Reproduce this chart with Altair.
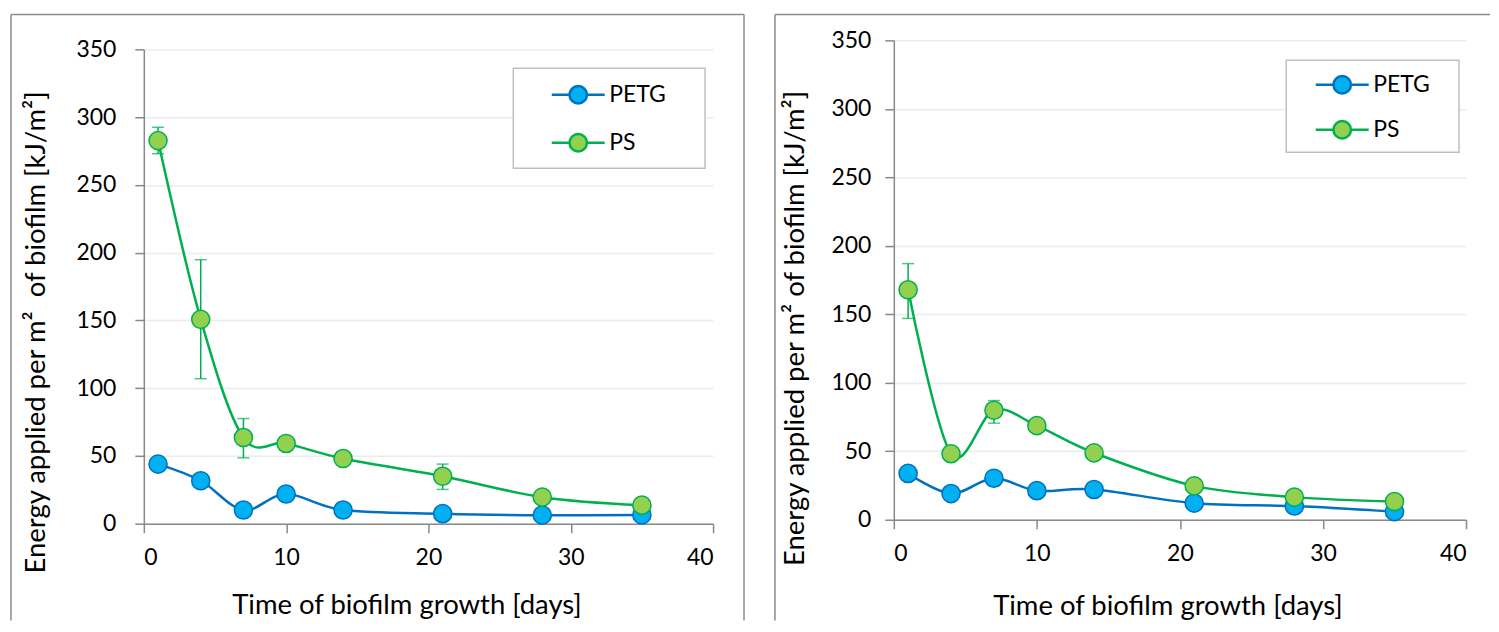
import altair as alt
import pandas as pd

# ---------------- data ----------------
days = [1, 4, 7, 10, 14, 21, 28, 35]
series_names = ["PETG", "PS"]

left_petg = [44.0, 31.7, 10.1, 21.9, 10.1, 7.4, 6.3, 6.5]
left_ps = [282.7, 150.8, 63.6, 59.2, 48.1, 35.0, 19.6, 13.7]
left_err_days = [1, 4, 7, 21]
left_err_low = [273.0, 107.0, 48.6, 25.3]
left_err_high = [292.5, 194.8, 77.6, 44.0]

right_petg = [33.8, 19.1, 30.3, 21.2, 22.1, 12.1, 10.0, 5.9]
right_ps = [167.9, 48.2, 79.9, 68.7, 48.8, 24.7, 16.5, 13.3]
right_err_days = [1, 7]
right_err_low = [147.0, 70.5]
right_err_high = [187.0, 87.0]

x_ticks = [0, 10, 20, 30, 40]
y_ticks = [0, 50, 100, 150, 200, 250, 300, 350]

x_title = "Time of biofilm growth [days]"
left_y_title = "Energy applied per m\u00b2\u00a0 of biofilm [kJ/m\u00b2]"
right_y_title = "Energy applied per m\u00b2 of biofilm [kJ/m\u00b2]"

# ---------------- style ----------------
FONT = "Lato"
line_colors = ["#0070C0", "#00B050"]
fill_colors = ["#00B0F0", "#92D050"]
AXIS_GRAY = "#898989"
BORDER_GRAY = "#8c8c8c"
LEGEND_SYMBOL = ("M-1,0L-0.33,0M0.33,0L1,0"
                 "M0.33,0A0.33,0.33,0,1,1,-0.33,0A0.33,0.33,0,1,1,0.33,0Z")


def panel(petg, ps, err_days, err_lo, err_hi, w, h, yrange, ytitle, L):
    df = pd.DataFrame({
        "day": days * 2,
        "value": petg + ps,
        "series": ["PETG"] * len(days) + ["PS"] * len(days),
    })
    err = pd.DataFrame({"day": err_days, "lo": err_lo, "hi": err_hi})
    one = pd.DataFrame({"k": [0]})

    x_axis = alt.Axis(values=x_ticks, title=x_title, grid=False,
                      tickSize=9, labelPadding=L["xlp"],
                      titleX=L["xtx"], titleY=L["xty"],
                      titleBaseline="middle", titleAlign="center")
    y_axis = alt.Axis(values=y_ticks, title=ytitle, grid=True,
                      tickSize=9, labelPadding=L["ylp"],
                      titleX=L["ytx"], titleY=L["yty"], titleAngle=270,
                      titleBaseline="middle", titleAlign="center")
    xs = alt.Scale(domain=[0, 40], nice=False, zero=False)
    ys = alt.Scale(domain=[0, 350], nice=False, range=yrange)

    leg = alt.Legend(
        title=None, orient="none", legendX=L["lx"], legendY=L["ly"],
        symbolType=LEGEND_SYMBOL, symbolSize=2809, symbolStrokeWidth=2.5,
        labelFont=FONT, labelFontSize=23, labelColor="black",
        labelOffset=3, rowPadding=L["rp"], padding=0,
    )
    stroke = alt.Stroke("series:N", legend=leg,
                        scale=alt.Scale(domain=series_names, range=line_colors))
    fill = alt.Fill("series:N", legend=leg,
                    scale=alt.Scale(domain=series_names, range=fill_colors))

    X = alt.X("day:Q", scale=xs, axis=x_axis)
    Y = alt.Y("value:Q", scale=ys, axis=y_axis)

    err_rule = alt.Chart(err).mark_rule(color="#00B050", strokeWidth=1.5).encode(
        x=alt.X("day:Q", scale=xs, axis=x_axis),
        y=alt.Y("lo:Q", scale=ys, axis=y_axis), y2="hi:Q")
    err_cap_lo = alt.Chart(err).mark_tick(color="#00B050", thickness=1.5, size=12,
                                          orient="horizontal").encode(
        x=alt.X("day:Q", scale=xs, axis=x_axis),
        y=alt.Y("lo:Q", scale=ys, axis=y_axis))
    err_cap_hi = alt.Chart(err).mark_tick(color="#00B050", thickness=1.5, size=12,
                                          orient="horizontal").encode(
        x=alt.X("day:Q", scale=xs, axis=x_axis),
        y=alt.Y("hi:Q", scale=ys, axis=y_axis))

    lines = alt.Chart(df).mark_line(interpolate="cardinal", strokeWidth=2.5).encode(
        x=X, y=Y, stroke=stroke)
    points = alt.Chart(df).mark_point(shape="circle", filled=True, size=330,
                                      strokeWidth=1.5, opacity=1).encode(
        x=X, y=Y, stroke=stroke, fill=fill)

    box = alt.Chart(one).mark_rect(fill="white", stroke="#bfbfbf", strokeWidth=1.5).encode(
        x=alt.value(L["bx"][0]), x2=alt.value(L["bx"][1]),
        y=alt.value(L["by"][0]), y2=alt.value(L["by"][1]))

    b = L["border"]  # left, top, right, bottom
    borders = [
        alt.Chart(one).mark_rule(color=BORDER_GRAY, strokeWidth=1.5).encode(
            x=alt.value(b[0]), y=alt.value(b[1]), y2=alt.value(b[3])),
        alt.Chart(one).mark_rule(color=BORDER_GRAY, strokeWidth=1.5).encode(
            x=alt.value(b[0]), x2=alt.value(b[2]), y=alt.value(b[1])),
    ]
    if L["right_border"]:
        borders.append(
            alt.Chart(one).mark_rule(color=BORDER_GRAY, strokeWidth=1.5).encode(
                x=alt.value(b[2]), y=alt.value(b[1]), y2=alt.value(b[3])))

    return alt.layer(err_rule, err_cap_lo, err_cap_hi, lines, points, box,
                     *borders).properties(width=w, height=h)


left = panel(left_petg, left_ps, left_err_days, left_err_low, left_err_high,
             570, 484, [484, 9], left_y_title,
             dict(xlp=14, xtx=263, xty=82, ylp=19, ytx=-107, yty=292,
                  lx=407, ly=26.5, rp=6, bx=(370, 562), by=(28, 128),
                  border=(-133, -26, 601, 581), right_border=True))
right = panel(right_petg, right_ps, right_err_days, right_err_low, right_err_high,
              573, 480, [480, 0], right_y_title,
              dict(xlp=14, xtx=274, xty=87, ylp=14, ytx=-98, yty=288,
                   lx=421, ly=16.5, rp=3, bx=(393, 566), by=(20, 112),
                   border=(-119, -26, 597, 581), right_border=False))

chart = alt.hconcat(left, right, spacing=29).resolve_scale(
    x="independent", y="independent", fill="independent", stroke="independent"
).resolve_legend(fill="independent", stroke="independent").properties(
    padding={"left": 2, "top": 5, "right": 0, "bottom": 0},
    background="white",
).configure_view(stroke=None).configure_axis(
    domainColor=AXIS_GRAY, domainWidth=1.5, tickColor=AXIS_GRAY, tickWidth=1.5,
    labelFont=FONT, labelFontSize=23, labelColor="black",
    titleFont=FONT, titleFontSize=27.5, titleFontWeight="normal", titleColor="black",
    gridColor="#ececec", gridWidth=1.5,
)

chart.save("out.html", embed_options={"renderer": "svg", "actions": False})
